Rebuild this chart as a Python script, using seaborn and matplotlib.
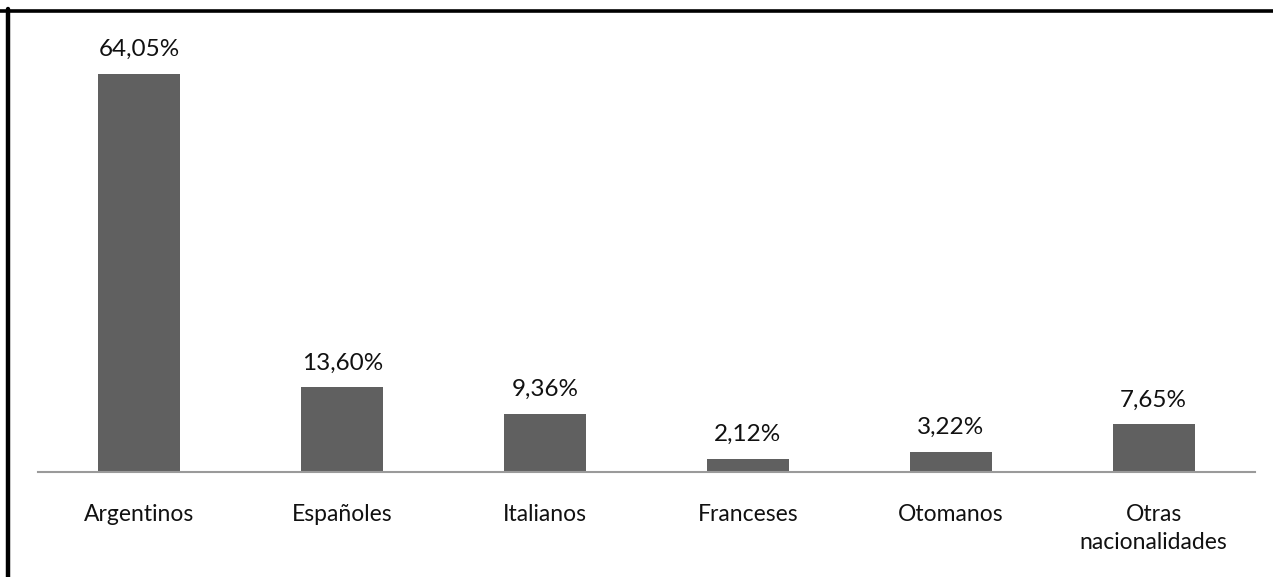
import matplotlib
matplotlib.use("Agg")
import matplotlib.pyplot as plt
import seaborn as sns
import pandas as pd
from matplotlib.lines import Line2D

categories = ["Argentinos", "Españoles", "Italianos", "Franceses", "Otomanos",
              "Otras\nnacionalidades"]
values = [64.05, 13.60, 9.36, 2.12, 3.22, 7.65]
value_labels = ["64,05%", "13,60%", "9,36%", "2,12%", "3,22%", "7,65%"]

sns.set_theme(style="white")
plt.rcParams["font.family"] = ["Lato", "DejaVu Sans"]

df = pd.DataFrame({"nacionalidad": categories, "porcentaje": values})

fig = plt.figure(figsize=(12.73, 5.77), dpi=100)
ax = fig.add_axes([38 / 1273, 1 - 472 / 577, (1255 - 38) / 1273, (472 - 20) / 577])

sns.barplot(data=df, x="nacionalidad", y="porcentaje", color="#606060",
            saturation=1, width=0.405, ax=ax, edgecolor="none")

for patch, lab in zip(ax.patches, value_labels):
    ax.annotate(lab, (patch.get_x() + patch.get_width() / 2, patch.get_height()),
                xytext=(0, 10), textcoords="offset points",
                ha="center", va="bottom", fontsize=17.5, color="#111111")

ax.set_ylim(0, 72.7)
ax.set_xlim(-0.5, len(categories) - 0.5)
ax.set_xlabel("")
ax.set_ylabel("")
ax.set_yticks([])
ax.tick_params(axis="x", length=0, pad=23, labelsize=16.5, colors="#111111")
for lbl in ax.get_xticklabels():
    lbl.set_linespacing(1.4)
for s in ["top", "left", "right"]:
    ax.spines[s].set_visible(False)
ax.spines["bottom"].set_color("#9a9a9a")
ax.spines["bottom"].set_linewidth(1.5)

# frame lines along the top and left edges
fig.add_artist(Line2D([0, 1], [1 - 10.5 / 577] * 2, transform=fig.transFigure,
                      color="black", linewidth=2.6))
fig.add_artist(Line2D([7.5 / 1273] * 2, [0, 1 - 9 / 577], transform=fig.transFigure,
                      color="black", linewidth=3.2))

fig.savefig("out.png", dpi=100, facecolor="white")
